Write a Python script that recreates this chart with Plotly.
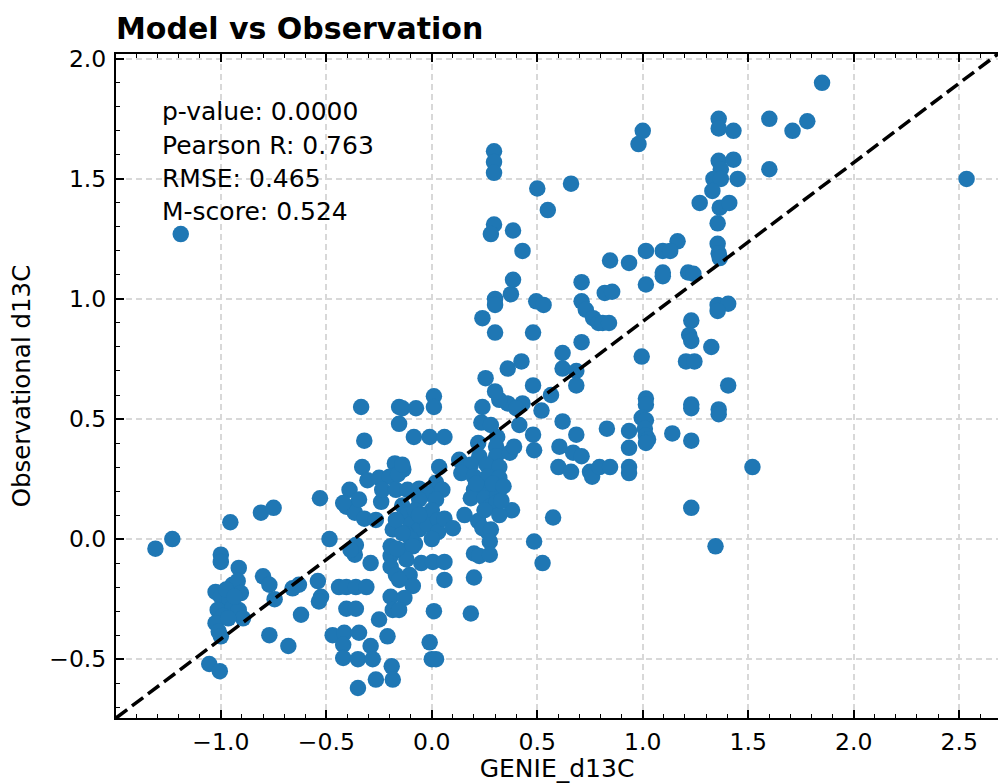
import plotly.graph_objects as go

# GENIE_d13C (model) and Observational d13C values
genie_d13c = [
    -1.31, -1.23, -1.19,
    -1.055, -1.005, -1.00, -1.00, -0.915, -0.955, -1.025, -1.00, -0.945, -0.92, -0.905,
    -0.96, -1.015, -0.945, -0.915, -0.99, -0.895, -1.025, -1.01, -1.00, -0.975, -0.965, -0.935,
    -0.81, -0.75, -0.80, -0.77, -0.745, -0.66, -0.63, -0.54, -0.525, -0.535, -0.62, -0.77,
    -0.68, -0.53, -0.485,
    -0.44, -0.405, -0.36, -0.31, -0.405, -0.36, -0.47, -0.415, -0.345, -0.42, -0.42, -0.35,
    -0.29, -0.28, -0.25, -0.21, -0.19, -0.265, -0.35, -0.185, -0.195, -0.185, -0.195, -0.195,
    -0.17, -0.185, -0.195, -0.365, -0.29, -0.36, -0.385,
    -0.405, -0.365, -0.32, -0.265, -0.24, -0.335, -0.32, -0.33, -0.175, -0.305, -0.25, -0.20,
    -0.235, -0.39, -0.345, -0.17, -0.155, -0.155, -0.42, -0.135, -0.16,
    -0.14, -0.075, 0.01, 0.01, -0.085, -0.01, 0.06, -0.14, 0.035, 0.13, -0.115, -0.06, 0.02,
    -0.02, 0.05, 0.02, -0.06, -0.14, -0.12, -0.10, -0.08, -0.06, -0.04, -0.02, 0.00, 0.03,
    0.03, -0.12, -0.08, -0.14, -0.10, 0.00, -0.06, -0.14, -0.09, -0.12, -0.105, -0.155, -0.09,
    -0.13, -0.155, -0.05, 0.005, 0.06, 0.06, 0.01, -0.01, 0.00, 0.02, 0.06, 0.10, 0.155,
    -0.165, -0.17,
    0.22, 0.31, 0.305, 0.225, 0.305, 0.37, 0.185, 0.26, 0.32, 0.14, 0.20, 0.265, 0.32, 0.20,
    0.26, 0.32, 0.185, 0.25, 0.31, 0.275, 0.305, 0.38, 0.575, 0.22, 0.265, 0.24, 0.28, 0.275,
    0.20, 0.225, 0.275, 0.20, 0.185, 0.485, 0.525, 0.25, 0.32, 0.21, 0.29, 0.33, 0.34,
    0.235, 0.28, 0.415, 0.24, 0.36, 0.43, 0.32, 0.40, 0.52, 0.30, 0.255, 0.48, 0.565, 0.36,
    0.425, 0.62, 0.62, 0.685, 0.685, 0.71, 0.48, 0.30, 0.24, 0.30, 0.30, 0.375, 0.495, 0.53,
    0.71, 0.73, 0.765, 0.79, 0.81, 0.84, 0.82, 0.855, 0.385, 0.71, 0.62, 0.48, 0.485, 0.39,
    0.685, 0.605, 0.67, 0.71, 0.60, 0.66, 0.75, 0.76, 0.83, 0.935, 0.935, 0.795, 0.845,
    0.935, 0.935,
    0.295, 0.295, 0.295, 0.50, 0.66, 0.55, 0.295, 0.28, 0.385, 0.43,
    1.00, 0.98, 1.36, 1.36, 1.43, 1.60, 1.71, 1.78, 1.85, 1.36, 1.43, 1.37, 1.335, 1.37,
    1.45, 1.33, 1.60, 1.27, 1.365, 1.41, 1.355, 1.355, 1.36, 1.365, 1.165, 1.095, 1.13,
    1.015, 0.845, 0.935, 1.095, 1.095, 1.215, 1.24, 1.015, 1.355, 1.405, 1.355, 1.23, 1.22,
    1.23, 1.325, 1.205, 1.245, 0.995, 1.405, 1.015, 1.015, 1.23, 1.23, 1.36, 1.36, 0.995,
    1.015, 1.01, 1.015, 1.025, 1.015, 1.14, 1.23, 1.52, 1.23, 1.345, 2.535,
]
obs_d13c = [
    -0.04, 0.00, 1.27,
    -0.52, -0.55, -0.065, -0.095, -0.12, 0.07, -0.22, -0.24, -0.19, -0.175, -0.225,
    -0.255, -0.295, -0.285, -0.295, -0.32, -0.33, -0.35, -0.385, -0.405, -0.21, -0.33, -0.24,
    0.11, 0.13, -0.155, -0.19, -0.25, -0.205, -0.19, -0.175, -0.24, -0.26, -0.315, -0.40,
    -0.445, 0.17, 0.00,
    -0.20, -0.20, -0.20, -0.20, -0.29, -0.29, -0.40, -0.39, -0.39, -0.44, -0.495, -0.50,
    -0.445, -0.50, -0.335, -0.405, -0.53, -0.585, -0.62, -0.585, -0.24, -0.295, -0.07, -0.115,
    -0.15, 0.04, -0.03, -0.065, -0.10, -0.025, -0.045,
    0.135, 0.11, 0.085, 0.08, 0.155, 0.55, 0.41, 0.30, 0.315, 0.245, 0.255, 0.26,
    0.205, 0.205, 0.165, 0.205, 0.55, 0.48, 0.15, 0.29, 0.27,
    0.545, 0.545, 0.595, 0.55, 0.425, 0.425, 0.425, 0.31, 0.30, 0.33, 0.205, 0.21, 0.235,
    0.19, 0.205, 0.165, 0.165, 0.14, 0.10, 0.06, 0.12, 0.04, 0.10, 0.06, 0.12, 0.08,
    0.03, 0.02, -0.02, -0.05, 0.00, 0.00, 0.10, 0.025, -0.03, -0.085, -0.15, -0.17, -0.195,
    -0.245, -0.295, -0.10, -0.095, -0.095, -0.17, -0.30, -0.43, -0.50, -0.50, 0.085, 0.045, 0.10,
    -0.04, 0.08,
    0.40, 0.425, 0.385, 0.345, 0.345, 0.36, 0.31, 0.31, 0.30, 0.275, 0.26, 0.26, 0.255, 0.205,
    0.21, 0.205, 0.17, 0.17, 0.18, 0.135, 0.15, 0.12, 0.09, 0.075, 0.03, 0.045, 0.04, -0.01,
    -0.06, -0.07, -0.065, -0.16, -0.31, -0.01, -0.10, 0.12, 0.10, 0.23, 0.23, 0.16, 0.22,
    0.485, 0.475, 0.475, 0.55, 0.565, 0.565, 0.58, 0.545, 0.535, 0.615, 0.67, 0.64, 0.60, 0.71,
    0.74, 0.775, 0.71, 0.70, 0.64, 0.82, 0.86, 0.86, 0.92, 1.00, 0.975, 1.02, 0.99, 0.975,
    0.99, 0.955, 0.92, 0.90, 0.90, 0.90, 1.025, 1.03, 1.08, 1.07, 0.49, 0.435, 0.37, 0.385,
    0.435, 0.385, 0.36, 0.345, 0.30, 0.28, 0.28, 0.26, 0.46, 0.45, 0.38, 0.30, 0.30,
    0.30, 0.275,
    1.615, 1.57, 1.525, 1.46, 1.48, 1.37, 1.31, 1.27, 1.285, 1.20,
    1.70, 1.645, 1.75, 1.71, 1.70, 1.75, 1.70, 1.74, 1.90, 1.575, 1.58, 1.54, 1.50, 1.50,
    1.50, 1.45, 1.54, 1.40, 1.38, 1.40, 1.315, 1.23, 1.19, 1.17, 1.24, 1.20, 1.20,
    1.20, 1.16, 1.15, 1.11, 1.095, 1.11, 1.105, 1.06, 0.975, 0.98, 0.95, 0.91, 0.85,
    0.825, 0.80, 0.74, 0.74, 0.76, 0.64, 0.585, 0.56, 0.56, 0.545, 0.54, 0.52, 0.505,
    0.495, 0.46, 0.43, 0.415, 0.40, 0.44, 0.41, 0.30, 0.13, -0.03, 1.50,
]

stats_lines = ["p-value: 0.0000", "Pearson R: 0.763", "RMSE: 0.465", "M-score: 0.524"]
x_range = [-1.497, 2.684]
y_range = [-0.745, 2.02]

FONT = "DejaVu Sans"
W, H = 998, 783
ML, MR, MT, MB = 116, 0, 54, 65

fig = go.Figure()
fig.add_trace(go.Scatter(
    x=genie_d13c, y=obs_d13c, mode="markers",
    marker=dict(color="#1f77b4", size=16.5, line=dict(width=0)),
    showlegend=False, hoverinfo="skip",
))

# corner-to-corner dashed reference line
fig.add_shape(type="line", xref="x domain", yref="y domain", x0=0, y0=0, x1=1, y1=1,
              line=dict(color="black", width=3.5, dash="14px,6px"), layer="above")

plot_h = H - MT - MB
line_centers = [112, 145, 178, 211]
for txt, yc in zip(stats_lines, line_centers):
    fig.add_annotation(text=txt, xref="paper", yref="paper",
                       x=(160 - ML) / (W - ML - MR), y=(H - MB - yc) / plot_h,
                       xanchor="left", yanchor="middle", showarrow=False,
                       font=dict(family=FONT, size=25, color="black"))

axis_common = dict(
    showline=True, linewidth=2, linecolor="black",
    ticks="inside", ticklen=8, tickwidth=1.6, tickcolor="black",
    showgrid=True, gridcolor="#d8d8d8", gridwidth=1.5, griddash="6px,4px",
    zeroline=False, tickformat=".1f", dtick=0.5, automargin=False,
    tickfont=dict(family=FONT, size=23.5, color="black"),
    minor=dict(ticks="inside", ticklen=4, tickwidth=1.4, tickcolor="black", dtick=0.1, showgrid=False),
)

fig.update_layout(
    width=W, height=H,
    margin=dict(l=ML, r=MR, t=MT, b=MB, pad=0, autoexpand=False),
    paper_bgcolor="white", plot_bgcolor="white",
    title=dict(text="<b>Model vs Observation</b>", x=ML / W, xanchor="left",
               y=1 - 28.5 / H, yanchor="middle", xref="container", yref="container",
               automargin=False,
               font=dict(family=FONT, size=30, color="black")),
    xaxis=dict(range=x_range, tick0=0, mirror="ticks", ticklabelstandoff=2,
               title=dict(text="GENIE_d13C", standoff=9, font=dict(family=FONT, size=25, color="black")),
               **axis_common),
    yaxis=dict(range=y_range, tick0=0, mirror=False, ticklabelstandoff=3,
               title=dict(text="Observational d13C", standoff=12, font=dict(family=FONT, size=24.5, color="black")),
               **axis_common),
)

fig.write_html("out.html", config={"displayModeBar": False},
               post_script="document.body.style.margin='0';document.body.style.overflow='hidden';")
